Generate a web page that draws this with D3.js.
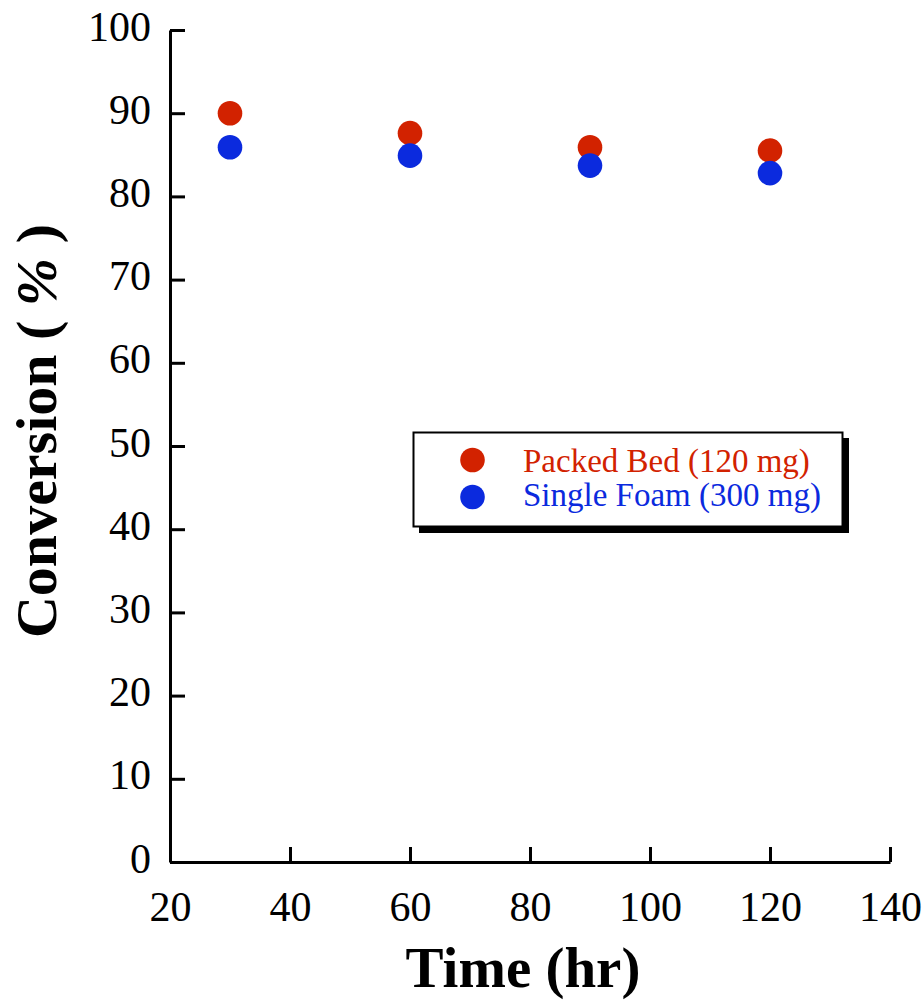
<!DOCTYPE html>
<html>
<head>
<meta charset="utf-8">
<script src="https://cdn.jsdelivr.net/npm/d3@7"></script>
<style>
  body { margin: 0; background: #fff; }
  text { font-family: "Liberation Serif", "Times New Roman", serif; }
</style>
</head>
<body>
<svg id="chart" width="923" height="1001"></svg>
<script>
// data
const times = [30, 60, 90, 120];
const packedBed = [90.0, 87.6, 85.9, 85.5];
const singleFoam = [85.9, 84.9, 83.7, 82.8];
const xTicks = [20, 40, 60, 80, 100, 120, 140];
const yTicks = [0, 10, 20, 30, 40, 50, 60, 70, 80, 90, 100];
const seriesNames = ["Packed Bed (120 mg)", "Single Foam (300 mg)"];
const seriesColors = ["#d22200", "#0b2ade"];

const svg = d3.select("#chart");

const x = d3.scaleLinear().domain([20, 140]).range([170, 890]);
const y = d3.scaleLinear().domain([0, 100]).range([862, 30]);

// x axis
const xAxis = svg.append("g")
  .attr("transform", "translate(0,862)")
  .call(d3.axisBottom(x).tickValues(xTicks).tickSizeInner(-15).tickSizeOuter(0).tickPadding(29));
xAxis.select(".domain").attr("stroke", "#000").attr("stroke-width", 3);
xAxis.selectAll(".tick line").attr("stroke", "#000").attr("stroke-width", 3);
xAxis.selectAll(".tick text")
  .attr("font-size", 42)
  .attr("fill", "#000");

// y axis
const yAxis = svg.append("g")
  .attr("transform", "translate(170,0)")
  .call(d3.axisLeft(y).tickValues(yTicks).tickSizeInner(-15).tickSizeOuter(0).tickPadding(19));
yAxis.select(".domain").attr("stroke", "#000").attr("stroke-width", 3);
yAxis.selectAll(".tick text")
  .attr("font-size", 42)
  .attr("fill", "#000")
  .attr("dy", "0.24em");
yAxis.selectAll(".tick line").attr("stroke", "#000").attr("stroke-width", 3);

// axis titles
svg.append("text")
  .attr("x", 523).attr("y", 987)
  .attr("text-anchor", "middle")
  .attr("font-size", 57).attr("font-weight", "bold")
  .text("Time (hr)");

const yt = svg.append("text")
  .attr("transform", "translate(56,431) rotate(-90)")
  .attr("text-anchor", "middle")
  .attr("font-size", 58).attr("font-weight", "bold");
yt.append("tspan").text("Conversion ( ");
yt.append("tspan").attr("font-style", "italic").text("%");
yt.append("tspan").text(" )");

// points
[packedBed, singleFoam].forEach((vals, i) => {
  svg.append("g").selectAll("circle")
    .data(times.map((t, j) => ({ t, v: vals[j] })))
    .join("circle")
    .attr("cx", d => x(d.t))
    .attr("cy", d => y(d.v))
    .attr("r", 12.3)
    .attr("fill", seriesColors[i]);
});

// legend with drop shadow
const lg = svg.append("g");
lg.append("rect").attr("x", 419).attr("y", 438).attr("width", 430).attr("height", 95).attr("fill", "#000");
lg.append("rect").attr("x", 413.5).attr("y", 432.5).attr("width", 429).attr("height", 94)
  .attr("fill", "#fff").attr("stroke", "#000").attr("stroke-width", 2);
seriesNames.forEach((name, i) => {
  lg.append("circle").attr("cx", 472.5).attr("cy", 460 + i * 37).attr("r", 12.3).attr("fill", seriesColors[i]);
  lg.append("text").attr("x", 523).attr("y", 472 + i * 34)
    .attr("font-size", 33).attr("fill", seriesColors[i]).text(name);
});
</script>
</body>
</html>
